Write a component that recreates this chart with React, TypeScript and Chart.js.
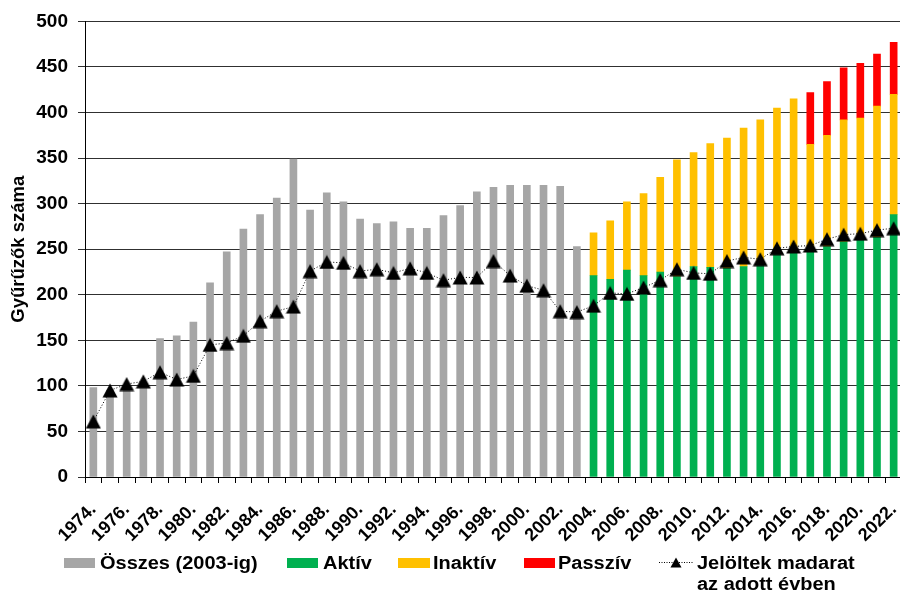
import React, { useEffect, useRef } from "react";
import { Chart, registerables } from "chart.js";

Chart.register(...registerables);

// ---- Data ----
const years = [
  1974, 1975, 1976, 1977, 1978, 1979, 1980, 1981, 1982, 1983,
  1984, 1985, 1986, 1987, 1988, 1989, 1990, 1991, 1992, 1993,
  1994, 1995, 1996, 1997, 1998, 1999, 2000, 2001, 2002, 2003,
  2004, 2005, 2006, 2007, 2008, 2009, 2010, 2011, 2012, 2013,
  2014, 2015, 2016, 2017, 2018, 2019, 2020, 2021, 2022,
];

// Összes gyűrűző (1974–2003)
const osszes = [
  98, 95, 100, 100, 152, 155, 170, 213, 247, 272,
  288, 306, 349, 293, 312, 302, 283, 278, 280, 273,
  273, 287, 298, 313, 318, 320, 320, 320, 319, 253,
];

// 2004–2022
const aktiv = [221, 217, 227, 221, 225, 220, 231, 230, 229, 231, 236, 247, 250, 250, 253, 258, 260, 263, 288];
const inaktiv = [47, 64, 75, 90, 104, 128, 125, 136, 143, 152, 156, 158, 165, 115, 122, 134, 134, 144, 132];
// 2017–2022
const passziv = [57, 59, 57, 60, 57, 57];

// Jelöltek madarat az adott évben (1974–2022)
const jeloltek = [
  61, 95, 102, 105, 115, 107, 111, 145, 147, 155,
  171, 182, 187, 226, 236, 235, 226, 228, 224, 229,
  224, 216, 219, 219, 237, 221, 210, 205, 182, 181,
  188, 202, 201, 208, 216, 228, 224, 223, 237, 241,
  239, 251, 253, 254, 261, 266, 267, 271, 273,
];

const yTicksMax = 500;
const yTicksStep = 50;

const labels = years.map((y) => `${y}.`);

const FONT = "'Liberation Sans', Arial, Helvetica, sans-serif";
const GRAY = "#A6A6A6";
const GREEN = "#00B050";
const YELLOW = "#FFC000";
const RED = "#FF0000";

const CANVAS_W = 910;

function alignTo(values: number[], startYear: number): (number | null)[] {
  const start = years.indexOf(startYear);
  return years.map((_, i) => (i >= start && i - start < values.length ? values[i - start] : null));
}

function makeTriangle(): HTMLCanvasElement {
  const c = document.createElement("canvas");
  c.width = 16;
  c.height = 15;
  const ctx = c.getContext("2d")!;
  ctx.fillStyle = "#000";
  ctx.beginPath();
  ctx.moveTo(8, 0.5);
  ctx.lineTo(15.5, 14.5);
  ctx.lineTo(0.5, 14.5);
  ctx.closePath();
  ctx.fill();
  return c;
}

const legendText: React.CSSProperties = {
  position: "absolute",
  fontFamily: FONT,
  fontWeight: "bold",
  fontSize: 18,
  lineHeight: "18px",
  whiteSpace: "nowrap",
  transform: "scaleX(1.11)",
  transformOrigin: "left top",
  color: "#000",
};

function Legend() {
  const box = (left: number, width: number, color: string) => (
    <div style={{ position: "absolute", left, top: 557.5, width, height: 10.5, background: color }} />
  );
  const top1 = 553.8;
  const top2 = 575;
  return (
    <>
      {box(64, 31, GRAY)}
      <span style={{ ...legendText, left: 99.5, top: top1 }}>Összes (2003-ig)</span>
      {box(287, 31, GREEN)}
      <span style={{ ...legendText, left: 323, top: top1 }}>Aktív</span>
      {box(398, 32, YELLOW)}
      <span style={{ ...legendText, left: 433, top: top1 }}>Inaktív</span>
      {box(524, 31, RED)}
      <span style={{ ...legendText, left: 558, top: top1 }}>Passzív</span>
      <svg style={{ position: "absolute", left: 659, top: 555 }} width={34} height={14}>
        <line x1={0} y1={7.5} x2={34} y2={7.5} stroke="#000" strokeWidth={1} strokeDasharray="1 1.5" />
        <polygon points="11.5,12.5 22.5,12.5 17,2.5" fill="#000" />
      </svg>
      <span style={{ ...legendText, left: 696.5, top: top1 }}>Jelöltek madarat</span>
      <span style={{ ...legendText, left: 696.5, top: top2 }}>az adott évben</span>
    </>
  );
}

export default function App() {
  const canvasRef = useRef<HTMLCanvasElement | null>(null);

  useEffect(() => {
    if (!canvasRef.current) return;
    const tri = makeTriangle();
    const chart = new Chart(canvasRef.current, {
      type: "bar",
      data: {
        labels,
        datasets: [
          {
            type: "line",
            label: "Jelöltek madarat az adott évben",
            data: jeloltek,
            stack: "line",
            order: 0,
            borderColor: "#000",
            borderWidth: 1,
            borderDash: [1, 2],
            pointStyle: tri as any,
            pointRadius: 8,
            pointBackgroundColor: "#000",
            pointBorderWidth: 0,
            fill: false,
            tension: 0,
          } as any,
          {
            label: "Összes (2003-ig)",
            data: alignTo(osszes, 1974),
            backgroundColor: GRAY,
            stack: "bars",
            order: 1,
            barThickness: 7,
          },
          {
            label: "Aktív",
            data: alignTo(aktiv, 2004),
            backgroundColor: GREEN,
            stack: "bars",
            order: 1,
            barThickness: 7,
          },
          {
            label: "Inaktív",
            data: alignTo(inaktiv, 2004),
            backgroundColor: YELLOW,
            stack: "bars",
            order: 1,
            barThickness: 7,
          },
          {
            label: "Passzív",
            data: alignTo(passziv, 2017),
            backgroundColor: RED,
            stack: "bars",
            order: 1,
            barThickness: 7,
          },
        ],
      },
      options: {
        responsive: false,
        maintainAspectRatio: false,
        animation: false,
        devicePixelRatio: 1,
        layout: { padding: { top: 21, left: 0, right: 0, bottom: 0 } },
        plugins: {
          legend: { display: false },
          tooltip: { enabled: false },
          title: { display: false },
        },
        scales: {
          x: {
            stacked: true,
            offset: true,
            grid: {
              display: true,
              offset: true,
              drawOnChartArea: false,
              drawTicks: true,
              tickLength: 6,
              color: "#000",
            },
            border: { display: true, color: "#000", width: 1 },
            ticks: {
              autoSkip: false,
              maxRotation: 45,
              minRotation: 45,
              padding: 16,
              color: "#000",
              font: { family: FONT, size: 18, weight: "bold" },
              callback: (_v: any, i: number) => (i % 2 === 0 ? labels[i] : ""),
            },
            afterFit: (scale: any) => {
              scale.height = 118;
              scale.paddingRight = 0;
              scale.paddingLeft = 0;
            },
          },
          y: {
            stacked: true,
            min: 0,
            max: yTicksMax,
            grid: {
              color: "#303030",
              lineWidth: 1,
              tickLength: 7,
              drawTicks: true,
            },
            border: { display: true, color: "#000", width: 1 },
            ticks: {
              stepSize: yTicksStep,
              padding: 10,
              color: "#000",
              font: { family: FONT, size: 19, weight: "bold" },
            },
            title: {
              display: true,
              text: "Gyűrűzők száma",
              color: "#000",
              font: { family: FONT, size: 18.5, weight: "bold" },
              padding: { top: 8, bottom: 0 },
            },
            afterFit: (scale: any) => {
              scale.width = 85;
            },
          },
        },
      },
    });
    return () => chart.destroy();
  }, []);

  return (
    <div
      style={{
        position: "fixed",
        left: 0,
        top: 0,
        width: 900,
        height: 595,
        overflow: "hidden",
        background: "#fff",
      }}
    >
      <div style={{ position: "absolute", left: 0, top: 0, width: CANVAS_W, height: 595 }}>
        <canvas
          ref={canvasRef}
          width={CANVAS_W}
          height={595}
          style={{ display: "block", width: CANVAS_W, height: 595 }}
        />
      </div>
      <Legend />
    </div>
  );
}
